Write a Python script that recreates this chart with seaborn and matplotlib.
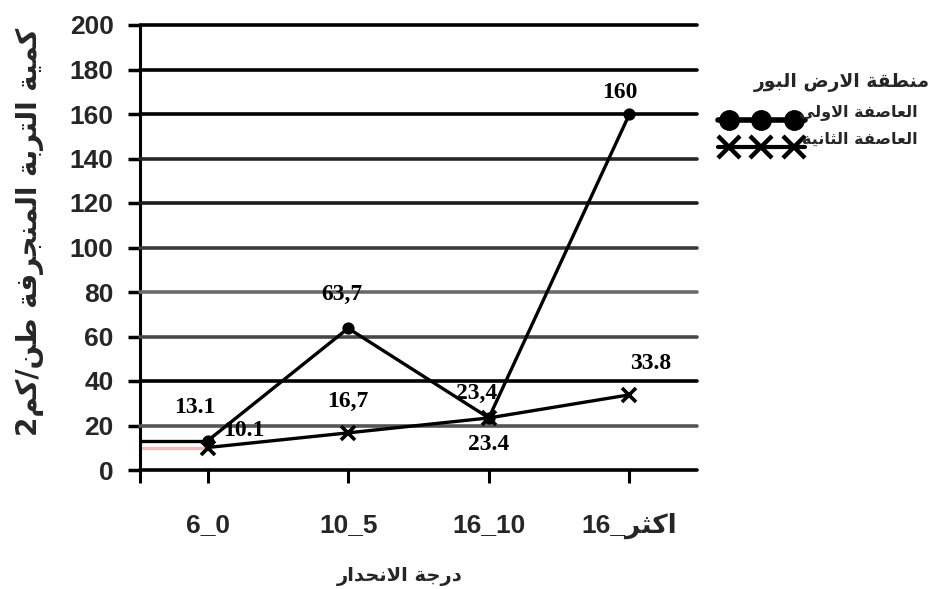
import re
import matplotlib
matplotlib.use("Agg")
import matplotlib.pyplot as plt
from matplotlib.lines import Line2D
import seaborn as sns
import pandas as pd

# ---- data -------------------------------------------------------------
slope_classes = ["6_0", "10_5", "16_10", "اكثر_16"]
storm_names = ["العاصفة الاولى", "العاصفة الثانية"]
storm1_values = [13.1, 63.7, 23.4, 160]
storm2_values = [10.1, 16.7, 23.4, 33.8]
storm1_labels = ["13.1", "63,7", "23,4", "160"]
storm2_labels = ["10.1", "16,7", "23.4", "33.8"]
y_ticks = [0, 20, 40, 60, 80, 100, 120, 140, 160, 180, 200]
legend_title = "منطقة الارض البور"
x_title = "درجة الانحدار"
y_title = "كمية التربة المنجرفة طن/كم2"

# ---- minimal Arabic shaping (contextual forms + right-to-left order) ----
FORMS = {
    "ا": ("\uFE8D", "\uFE8E", None, None),
    "أ": ("\uFE83", "\uFE84", None, None),
    "ب": ("\uFE8F", "\uFE90", "\uFE91", "\uFE92"),
    "ة": ("\uFE93", "\uFE94", None, None),
    "ت": ("\uFE95", "\uFE96", "\uFE97", "\uFE98"),
    "ث": ("\uFE99", "\uFE9A", "\uFE9B", "\uFE9C"),
    "ج": ("\uFE9D", "\uFE9E", "\uFE9F", "\uFEA0"),
    "ح": ("\uFEA1", "\uFEA2", "\uFEA3", "\uFEA4"),
    "د": ("\uFEA9", "\uFEAA", None, None),
    "ر": ("\uFEAD", "\uFEAE", None, None),
    "ص": ("\uFEB9", "\uFEBA", "\uFEBB", "\uFEBC"),
    "ض": ("\uFEBD", "\uFEBE", "\uFEBF", "\uFEC0"),
    "ط": ("\uFEC1", "\uFEC2", "\uFEC3", "\uFEC4"),
    "ع": ("\uFEC9", "\uFECA", "\uFECB", "\uFECC"),
    "ف": ("\uFED1", "\uFED2", "\uFED3", "\uFED4"),
    "ق": ("\uFED5", "\uFED6", "\uFED7", "\uFED8"),
    "ك": ("\uFED9", "\uFEDA", "\uFEDB", "\uFEDC"),
    "ل": ("\uFEDD", "\uFEDE", "\uFEDF", "\uFEE0"),
    "م": ("\uFEE1", "\uFEE2", "\uFEE3", "\uFEE4"),
    "ن": ("\uFEE5", "\uFEE6", "\uFEE7", "\uFEE8"),
    "ه": ("\uFEE9", "\uFEEA", "\uFEEB", "\uFEEC"),
    "و": ("\uFEED", "\uFEEE", None, None),
    "ى": ("\uFEEF", "\uFEF0", None, None),
    "ي": ("\uFEF1", "\uFEF2", "\uFEF3", "\uFEF4"),
}
LAM_ALEF = {"ا": ("\uFEFB", "\uFEFC"), "أ": ("\uFEF7", "\uFEF8")}


def shape(text):
    if not any(c in FORMS for c in text):
        return text
    tokens, i = [], 0
    while i < len(text):
        c = text[i]
        if c == "ل" and i + 1 < len(text) and text[i + 1] in LAM_ALEF:
            tokens.append(("LA", text[i + 1]))
            i += 2
        else:
            tokens.append(c)
            i += 1

    def joins_next(t):
        return (not isinstance(t, tuple)) and t in FORMS and FORMS[t][2] is not None

    def is_arabic(t):
        return isinstance(t, tuple) or t in FORMS

    out = []
    for k, t in enumerate(tokens):
        prev = tokens[k - 1] if k > 0 else None
        nxt = tokens[k + 1] if k + 1 < len(tokens) else None
        p = prev is not None and joins_next(prev)
        if isinstance(t, tuple):
            iso, fin = LAM_ALEF[t[1]]
            out.append(fin if p else iso)
            continue
        if t not in FORMS:
            out.append(t)
            continue
        iso, fin, ini, med = FORMS[t]
        n = ini is not None and nxt is not None and is_arabic(nxt)
        out.append(med if (p and n) else fin if p else ini if n else iso)
    runs = re.findall(r"[0-9]+(?:[.,][0-9]+)*|.", "".join(out))
    return "".join(reversed(runs))


# ---- style ------------------------------------------------------------
sns.set_theme(style="white")
plt.rcParams["font.family"] = ["Liberation Sans", "DejaVu Sans"]
plt.rcParams["font.weight"] = "bold"

W, H = 934, 589
fig = plt.figure(figsize=(W / 100, H / 100), dpi=100)
ax = fig.add_axes([140 / W, 1 - 470 / H, (697 - 140) / W, (470 - 25) / H])

df = pd.DataFrame({
    "slope": [shape(s) for s in slope_classes] * 2,
    "value": storm1_values + storm2_values,
    "storm": [storm_names[0]] * 4 + [storm_names[1]] * 4,
})

# horizontal gridlines, shaded like the original worksheet chart
grid_colors = ["#000000", "#555555", "#000000", "#484848", "#6a6a6a",
               "#3a3a3a", "#1c1c1c", "#262626", "#000000", "#000000", "#000000"]
for yv, col in zip(y_ticks, grid_colors):
    ax.axhline(yv, color=col, lw=2.6, zorder=1, clip_on=False)

sns.pointplot(data=df, x="slope", y="value", hue="storm",
              palette=["black", "black"], markers=["o", "x"],
              linestyles=["-", "-"], markersize=7, linewidth=2.4,
              legend=False, ax=ax)
for ln in ax.lines:
    ln.set_zorder(3)
    if ln.get_marker() == "x":
        ln.set_markersize(10)
        ln.set_markeredgewidth(2.6)

ax.set_xlim(-0.48, 3.48)
ax.set_ylim(0, 200)

# series run-in from the axis to the first category
ax.hlines(storm1_values[0], -0.48, 0, color="black", lw=2.4, zorder=2)
ax.hlines(storm2_values[0], -0.48, 0, color="#f2bcbc", lw=2.4, zorder=2)

for sp in ["top", "right", "bottom"]:
    ax.spines[sp].set_visible(False)
ax.spines["left"].set_color("black")
ax.spines["left"].set_linewidth(2.2)

ax.set_yticks(y_ticks)
ax.set_yticklabels([str(v) for v in y_ticks])
ax.set_xticks([-0.48], minor=True)
ax.tick_params(axis="y", length=9, width=2.5, color="black", pad=10,
               labelsize=19, left=True)
ax.tick_params(axis="x", which="both", length=9, width=2.2, color="black",
               pad=22, labelsize=19, bottom=True)
for lab in ax.get_xticklabels() + ax.get_yticklabels():
    lab.set_fontweight("bold")
ax.set_xlabel("")
ax.set_ylabel("")

# value labels
label_font = dict(family="Liberation Serif", fontweight="bold", fontsize=17,
                  ha="center", va="center", color="black", zorder=5)
off1 = [(-13, 33), (-6, 34), (-12, 24), (-10, 21)]
off2 = [(36, 17), (0, 31), (0, -27), (21, 31)]
for i, (v, t) in enumerate(zip(storm1_values, storm1_labels)):
    ax.annotate(t, (i, v), xytext=off1[i], textcoords="offset pixels", **label_font)
for i, (v, t) in enumerate(zip(storm2_values, storm2_labels)):
    ax.annotate(t, (i, v), xytext=off2[i], textcoords="offset pixels", **label_font)

# axis titles
fig.text(30 / W, 1 - 232 / H, shape(y_title), rotation=90, ha="center",
         va="center", fontsize=20, fontweight="bold", family="DejaVu Sans")
fig.text(400 / W, 1 - 577 / H, shape(x_title), ha="center", va="center",
         fontsize=14, fontweight="bold", family="DejaVu Sans")

# legend block to the right of the plot
key_font = dict(family="DejaVu Sans", fontweight="bold", ha="right", va="center")
fig.text(930 / W, 1 - 82 / H, shape(legend_title), fontsize=13.5, **key_font)
key_rows = [
    dict(y=112, my=120, marker="o", ms=14, mew=1, lw=4),
    dict(y=139, my=147, marker="x", ms=16, mew=3.2, lw=3),
]
for name, row in zip(storm_names, key_rows):
    fig.text(918 / W, 1 - row["y"] / H, shape(name), fontsize=11.5, **key_font)
    xs = [718 / W, 729 / W, 761 / W, 794 / W, 805 / W]
    fig.add_artist(Line2D(xs, [1 - row["my"] / H] * len(xs), transform=fig.transFigure,
                          color="black", lw=row["lw"], marker=row["marker"],
                          markersize=row["ms"], markeredgewidth=row["mew"],
                          markevery=[1, 2, 3]))

fig.savefig("out.png", dpi=100, facecolor="white")
